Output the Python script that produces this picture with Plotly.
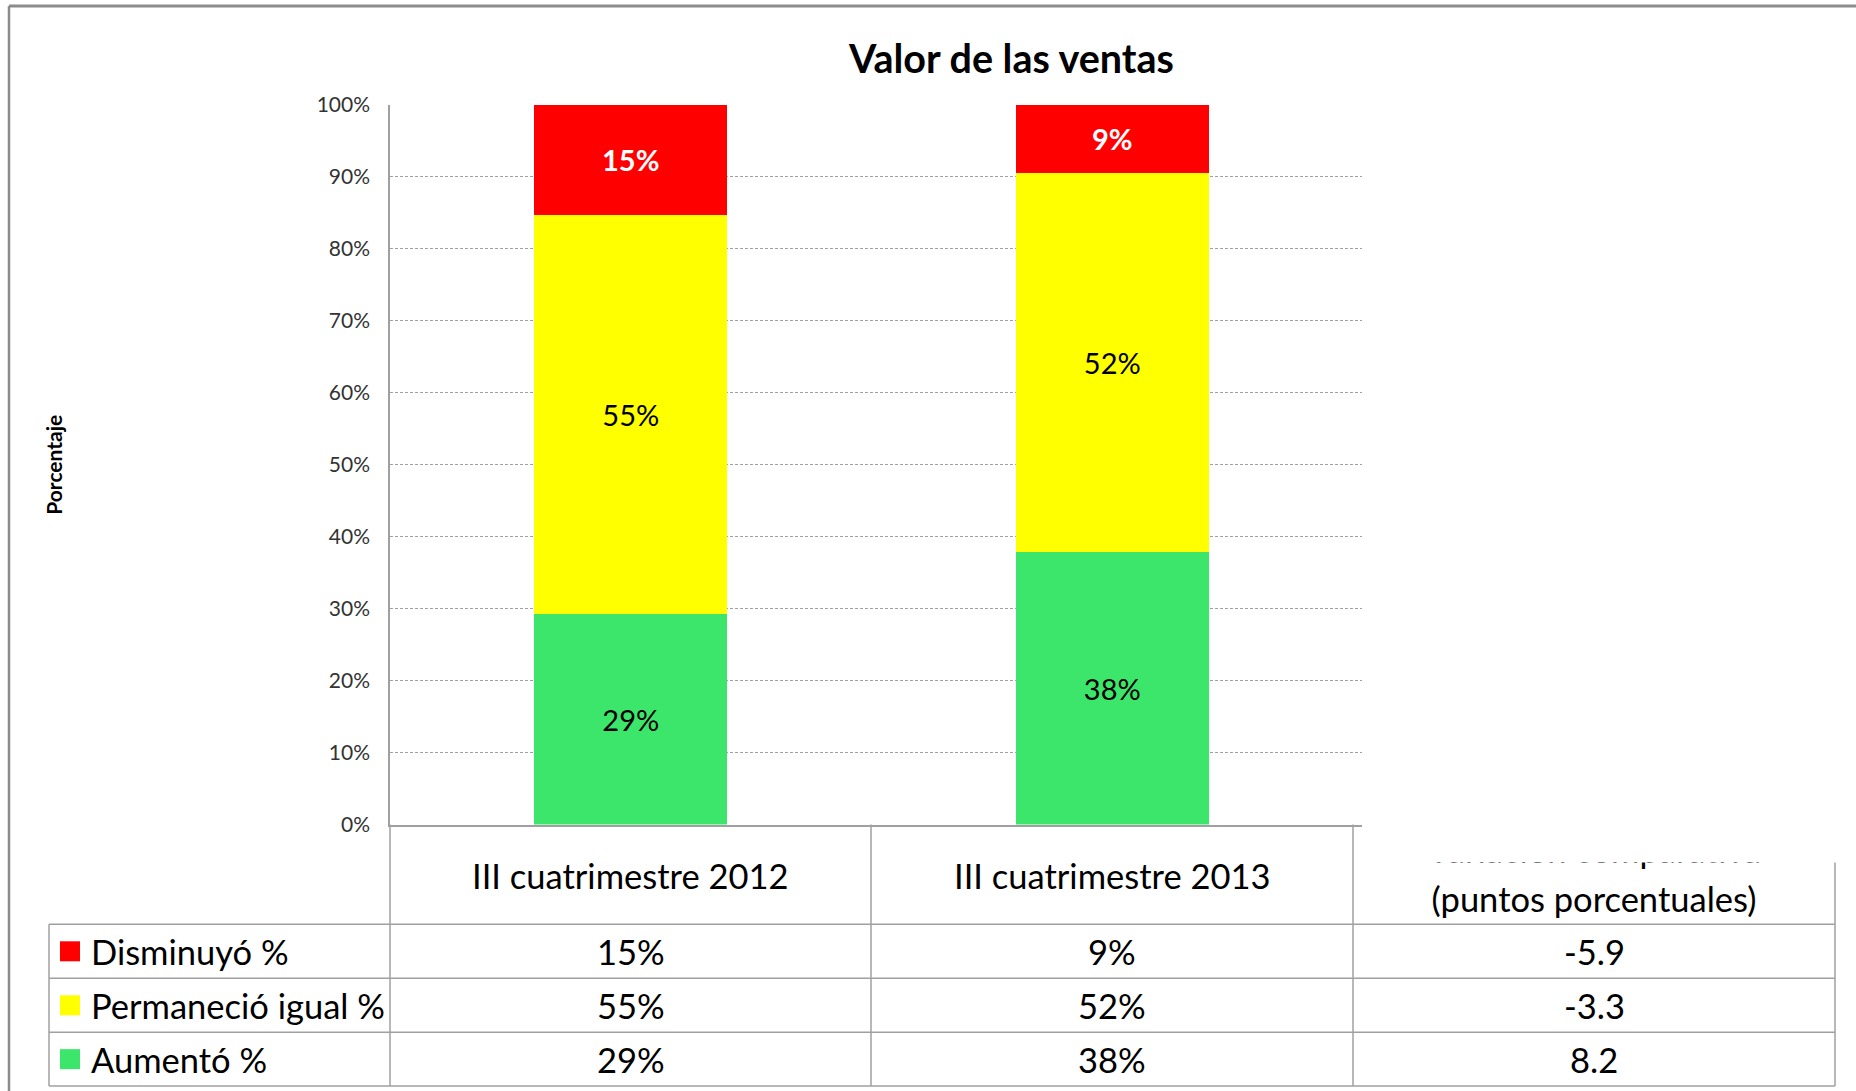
import plotly.graph_objects as go

# ---------------- data ----------------
categories = ["III cuatrimestre 2012", "III cuatrimestre 2013"]
series_names = ["Disminuyó %", "Permaneció igual %", "Aumentó %"]
disminuyo = [15.3, 9.4]
permanecio = [55.4, 52.1]
aumento = [29.3, 37.5]
variacion = [-5.9, -3.3, 8.2]
title_text = "Valor de las ventas"
y_title = "Porcentaje"
var_header = ["Variación comparativa", "(puntos porcentuales)"]

# ---------------- styling ----------------
W, H = 1856, 1091
FONT = "Lato"
RED, YELLOW, GREEN = "#FF0000", "#FFFF00", "#3BE66B"
GRID = "#A0A0A0"
LINE = "#A0A0A0"
TS = 34.5  # table font size


def px(x):
    return x / W


def py(y):
    return 1 - y / H


# plot area in pixels
PL, PR, PT, PB = 390, 1362, 104.7, 824.5
CAT_W = 481.5
x_span = (PR - PL) / CAT_W

fig = go.Figure()

stack = [
    ("Aumentó %", aumento, GREEN, "black", "normal"),
    ("Permaneció igual %", permanecio, YELLOW, "black", "normal"),
    ("Disminuyó %", disminuyo, RED, "white", "bold"),
]
for name, vals, color, tcol, weight in stack:
    fig.add_trace(go.Bar(
        x=categories, y=vals, name=name,
        marker=dict(color=color, line=dict(width=0)),
        text=[f"{v:.0f}%" for v in vals],
        textposition="inside", insidetextanchor="middle", textangle=0,
        textfont=dict(family=FONT, size=29, color=tcol, weight=weight),
        hoverinfo="skip", showlegend=False,
    ))

# clipped header of the third column (first line cut off as in the original)
fig.add_trace(go.Scatter(
    x=[0.5, 0.5], y=[1.135, 0.33], mode="text", text=var_header,
    textposition="middle center",
    textfont=dict(family=FONT, size=TS, color="black"),
    xaxis="x2", yaxis="y2", cliponaxis=True, hoverinfo="skip", showlegend=False,
))

shapes = []


def hline(y, x0, x1, color=LINE, w=1.5):
    shapes.append(dict(type="line", xref="paper", yref="paper", x0=px(x0), x1=px(x1),
                       y0=py(y), y1=py(y), line=dict(color=color, width=w)))


def vline(x, y0, y1, color=LINE, w=1.5):
    shapes.append(dict(type="line", xref="paper", yref="paper", x0=px(x), x1=px(x),
                       y0=py(y0), y1=py(y1), line=dict(color=color, width=w)))


# outer frame
hline(6, 9, W, color="#8C8C8C", w=3)
vline(9, 6, H, color="#8C8C8C", w=2.5)

# data table
row_tops = [924.3, 978.3, 1032.3, 1086]
for y in row_tops:
    hline(y, 49, 1835)
vline(49, 924.3, 1086)
vline(390, 824.5, 1086)
vline(871, 824.5, 1086)
vline(1353, 824.5, 1086)
vline(1835, 862.5, 1086)

annotations = []


def text(x, y, s, size=TS, anchor="center", color="black", bold=False):
    annotations.append(dict(xref="paper", yref="paper", x=px(x), y=py(y), text=s,
                            showarrow=False, xanchor=anchor, yanchor="middle",
                            font=dict(family=FONT, size=size, color=color,
                                      weight="bold" if bold else "normal")))


# title and axis title
text(1011, 58, f"<b>{title_text}</b>", size=39.5)
annotations.append(dict(xref="paper", yref="paper", x=px(52.7), y=py(465), text=f"<b>{y_title}</b>",
                        showarrow=False, textangle=-90, xanchor="center", yanchor="middle",
                        font=dict(family=FONT, size=21, color="black")))

# header
col_centers = [630.5, 1112]
for cx, cat in zip(col_centers, categories):
    text(cx, 875, cat)

# rows
rows = [
    ("Disminuyó %", disminuyo, RED, variacion[0]),
    ("Permaneció igual %", permanecio, YELLOW, variacion[1]),
    ("Aumentó %", aumento, GREEN, variacion[2]),
]
for i, (name, vals, color, var) in enumerate(rows):
    yc = (row_tops[i] + row_tops[i + 1]) / 2
    shapes.append(dict(type="rect", xref="paper", yref="paper", x0=px(60), x1=px(80),
                       y0=py(yc + 10), y1=py(yc - 10), fillcolor=color, line=dict(width=0)))
    text(89, yc, name, anchor="left")
    for cx, v in zip(col_centers, vals):
        text(cx, yc, f"{v:.0f}%")
    text(1594, yc, f"{var:.1f}")

fig.update_layout(
    width=W, height=H, autosize=False,
    margin=dict(l=0, r=0, t=0, b=0, pad=0, autoexpand=False),
    paper_bgcolor="white", plot_bgcolor="white",
    barmode="stack", barnorm="percent", bargap=0.6,
    xaxis=dict(domain=[px(PL), px(PR)], range=[-0.5, -0.5 + x_span], showticklabels=False,
               showline=True, linecolor=LINE, linewidth=1.5, ticks="", showgrid=False,
               zeroline=False, fixedrange=True, automargin=False),
    yaxis=dict(domain=[py(PB), py(PT)], range=[0, 100], dtick=10, tick0=0, ticksuffix="%",
               showgrid=True, gridcolor=GRID, griddash="3px,2px", gridwidth=1,
               showline=True, linecolor=LINE, linewidth=1.5, zeroline=False, ticks="",
               ticklabelstandoff=14, automargin=False,
               tickfont=dict(family=FONT, size=21, color="#333333"), fixedrange=True),
    xaxis2=dict(domain=[px(1353), px(1835)], range=[0, 1], visible=False, anchor="y2",
                fixedrange=True, automargin=False),
    yaxis2=dict(domain=[py(924), py(862.5)], range=[0, 1], visible=False, anchor="x2",
                fixedrange=True, automargin=False),
    shapes=shapes,
    annotations=annotations,
)

fig.write_html("out.html", config={"displayModeBar": False},
               post_script="document.body.style.margin='0';document.body.style.overflow='hidden';")
